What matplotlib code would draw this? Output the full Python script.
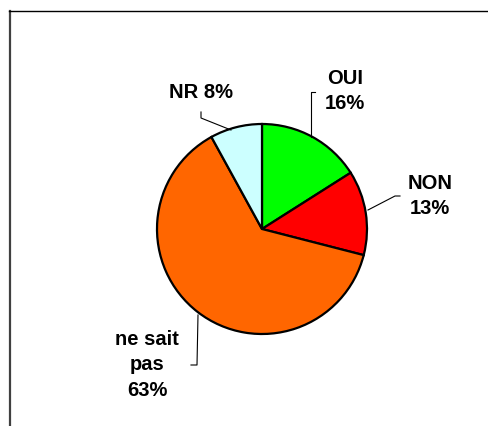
import matplotlib
matplotlib.use("Agg")
import matplotlib.pyplot as plt
from matplotlib.lines import Line2D

categories = ["OUI", "NON", "ne sait pas", "NR"]
values = [16, 13, 63, 8]
label_texts = ["OUI\n16%", "NON\n13%", "ne sait\npas\n63%", "NR 8%"]
colors = ["#00FF00", "#FF0000", "#FF6600", "#CCFFFF"]

W, H = 489, 427
fig = plt.figure(figsize=(W / 100, H / 100), dpi=100)
fig.patch.set_facecolor("white")
ax = fig.add_axes([0, 0, 1, 1])
ax.set_xlim(0, W)
ax.set_ylim(0, H)
ax.axis("off")

def Y(py):
    return H - py

# outer frame (left and top border)
ax.add_line(Line2D([10, 10], [Y(12), Y(430)], color="#404040", lw=1.6))
ax.add_line(Line2D([9, 492], [Y(12), Y(12)], color="black", lw=1.0))

ax.pie(values, colors=colors, startangle=90, counterclock=False,
       center=(262, Y(230)), radius=105,
       wedgeprops=dict(edgecolor="black", linewidth=1.6))
ax.set_xlim(0, W)
ax.set_ylim(0, H)
ax.set_aspect("auto")

font = dict(family="Liberation Sans", weight="bold", fontsize=14.5, color="black")

# label positions (pixels) and leader lines
label_pos = [(345, 91), (430, 196), (147, 365), (201, 93)]
for txt, (px, py) in zip(label_texts, label_pos):
    ax.text(px, Y(py), txt, ha="center", va="center", linespacing=1.45, **font)

leaders = [
    [(315, 93), (311, 93), (311, 138)],
    [(400, 197), (395, 197), (368, 211)],
    [(191, 366), (197, 366), (198, 316)],
    [(201, 113), (201, 119), (231, 131)],
]
for pts in leaders:
    xs = [p[0] for p in pts]
    ys = [Y(p[1]) for p in pts]
    ax.add_line(Line2D(xs, ys, color="black", lw=0.8))

fig.savefig("out.png", dpi=100)
